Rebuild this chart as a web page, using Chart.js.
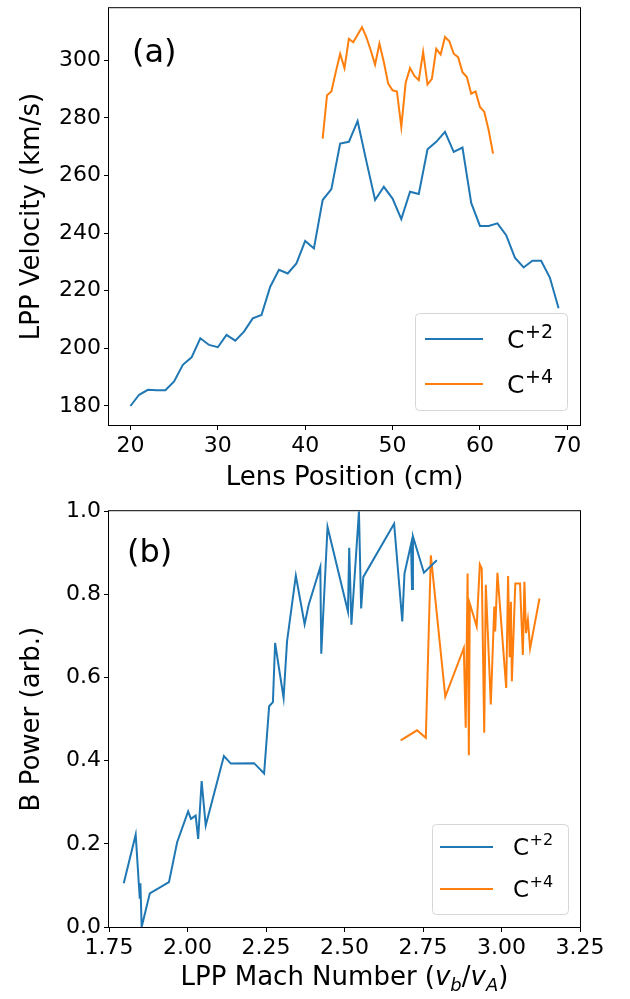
<!DOCTYPE html>
<html lang="en">
<head>
<meta charset="UTF-8">
<title>LPP Velocity and B Power</title>
<script src="https://cdn.jsdelivr.net/npm/chart.js"></script>
<style>
    body { margin: 0; background: #fff; }
    .panel { position: absolute; left: 0; }
    .panel canvas { display: block; }
    #panelA { top: -8px; }
    #panelB { top: 495px; }
</style>
</head>
<body>

<div class="panel" id="panelA"><canvas id="velChart" width="630" height="503"></canvas></div>
<div class="panel" id="panelB"><canvas id="powChart" width="630" height="504"></canvas></div>

<script>
    const FONT = '"DejaVu Sans", Verdana, sans-serif';
    const BLUE = '#1f77b4';
    const ORANGE = '#ff7f0e';

    // (a) LPP velocity vs lens position
    const lensC2 = [20, 21, 22, 23, 24, 25, 26, 27, 28, 29, 30, 31, 32, 33, 34, 35, 36, 37, 38, 39,
                    40, 41, 42, 43, 44, 45, 46, 47, 48, 49, 50, 51, 52, 53, 54, 55, 56, 57, 58, 59,
                    60, 61, 62, 63, 64, 65, 66, 67, 68, 69];
    const velC2 = [180.0, 183.9, 185.6, 185.5, 185.5, 188.5, 194.3, 196.9, 203.5, 201.2,
                   200.4, 204.7, 202.7, 205.8, 210.4, 211.6, 221.4, 227.3, 226.0, 229.5,
                   237.3, 234.7, 251.5, 255.3, 271.1, 271.7, 278.9, 265.0, 251.5, 256.1,
                   252.0, 244.9, 254.4, 253.6, 269.1, 271.7, 275.2, 268.2, 269.7, 250.5,
                   242.5, 242.5, 243.4, 239.3, 231.5, 228.1, 230.4, 230.4, 224.6, 213.9];
    const lensC4 = [42, 42.5, 43, 43.5, 44, 44.5, 45, 45.5, 46, 46.5, 47, 47.5, 48, 48.5, 49, 49.5,
                    50, 50.5, 51, 51.5, 52, 52.5, 53, 53.5, 54, 54.5, 55, 55.5, 56, 56.5, 57, 57.5,
                    58, 58.5, 59, 59.5, 60, 60.5, 61, 61.5];
    const velC4 = [272.8, 287.9, 289.2, 295.9, 302.3, 297.3, 307.5, 306.3, 308.9, 311.5,
                   308.1, 303.5, 298.5, 305.8, 299.4, 291.9, 289.6, 289.2, 276.9, 292.2,
                   297.3, 294.6, 293.1, 302.9, 291.6, 293.6, 304.0, 302.0, 308.1, 306.6,
                   302.3, 301.1, 295.9, 294.2, 288.4, 289.2, 283.8, 282.1, 275.7, 267.6];
    const lensTicks = [20, 30, 40, 50, 60, 70];
    const velTicks = [180, 200, 220, 240, 260, 280, 300];

    // (b) B power vs Mach number
    const machC2 = [1.797, 1.835, 1.848, 1.850, 1.854, 1.880, 1.941, 1.967, 2.002, 2.011,
                    2.026, 2.034, 2.045, 2.058, 2.116, 2.138, 2.212, 2.244, 2.260, 2.272,
                    2.279, 2.306, 2.317, 2.345, 2.373, 2.386, 2.423, 2.426, 2.446, 2.511,
                    2.515, 2.522, 2.546, 2.553, 2.560, 2.658, 2.684, 2.691, 2.712, 2.715,
                    2.718, 2.753, 2.794];
    const powC2 = [0.105, 0.222, 0.068, 0.105, 0.000, 0.081, 0.108, 0.204, 0.278, 0.260,
                   0.268, 0.212, 0.351, 0.244, 0.411, 0.393, 0.394, 0.369, 0.531, 0.541,
                   0.683, 0.551, 0.687, 0.845, 0.728, 0.775, 0.866, 0.657, 0.962, 0.759,
                   0.912, 0.727, 1.000, 0.766, 0.842, 0.970, 0.735, 0.850, 0.921, 0.813,
                   0.939, 0.852, 0.882];
    const machC4 = [2.679, 2.731, 2.759, 2.775, 2.821, 2.880, 2.886, 2.892, 2.896, 2.899,
                    2.921, 2.931, 2.937, 2.945, 2.950, 2.966, 2.977, 2.980, 2.987, 3.015,
                    3.021, 3.026, 3.030, 3.033, 3.044, 3.059, 3.068, 3.073, 3.078, 3.084,
                    3.091, 3.121];
    const powC4 = [0.449, 0.473, 0.455, 0.894, 0.554, 0.671, 0.479, 0.850, 0.413, 0.778,
                   0.723, 0.872, 0.862, 0.467, 0.823, 0.535, 0.771, 0.711, 0.852, 0.575,
                   0.844, 0.649, 0.782, 0.591, 0.826, 0.826, 0.654, 0.830, 0.707, 0.739,
                   0.670, 0.790];
    const machTicks = [1.75, 2.00, 2.25, 2.50, 2.75, 3.00, 3.25];
    const powTicks = [0.0, 0.2, 0.4, 0.6, 0.8, 1.0];

    // legend entries: ion + charge (drawn as superscript)
    const ions = ['C', 'C'];
    const charges = ['+2', '+4'];

    function toPoints(xs, ys) {
        return xs.map((x, i) => ({ x: x, y: ys[i] }));
    }

    function series(i, xs, ys, color) {
        return {
            label: ions[i] + charges[i],
            data: toPoints(xs, ys),
            borderColor: color,
            backgroundColor: color,
            borderWidth: 2,
            pointRadius: 0,
            showLine: true,
            tension: 0,
            fill: false
        };
    }

    function axis(o) {
        return {
            type: 'linear',
            min: o.min,
            max: o.max,
            afterBuildTicks: s => { s.ticks = o.ticks.map(v => ({ value: v })); },
            afterFit: s => {
                if (o.width) s.width = o.width;
                if (o.height) s.height = o.height;
            },
            grid: { display: true, drawOnChartArea: false, drawTicks: true, tickLength: 5, color: '#000' },
            border: { display: false },
            ticks: {
                color: '#000',
                font: { family: FONT, size: 22 },
                padding: 3,
                maxRotation: 0,
                autoSkip: false,
                callback: v => v.toFixed(o.digits)
            },
            title: o.title
                ? { display: true, text: o.title, color: '#000', font: { family: FONT, size: 26 }, padding: o.titlePad }
                : { display: false }
        };
    }

    // spines, panel tag, legend (matplotlib look)
    function decor(cfg) {
        return {
            id: 'decor',
            afterDraw(chart) {
                const ctx = chart.ctx;
                const a = chart.chartArea;
                ctx.save();

                ctx.strokeStyle = '#000';
                ctx.lineWidth = 1;
                ctx.strokeRect(a.left - 0.5, a.top - 0.5, a.right - a.left + 1, a.bottom - a.top + 1);

                ctx.fillStyle = '#000';
                ctx.textBaseline = 'alphabetic';
                ctx.textAlign = 'left';
                ctx.font = '32px ' + FONT;
                ctx.fillText(cfg.tag, a.left + cfg.tagDx, a.top + cfg.tagDy);

                const L = cfg.legend;
                const bx = a.right - L.right - L.w;
                const by = a.bottom - L.bottom - L.h;
                ctx.beginPath();
                ctx.roundRect(bx + 0.5, by + 0.5, L.w, L.h, 4);
                ctx.fillStyle = 'rgba(255,255,255,0.8)';
                ctx.fill();
                ctx.strokeStyle = '#d6d6d6';
                ctx.stroke();

                chart.data.datasets.forEach((ds, i) => {
                    const cy = by + L.row0 + i * L.rowGap;
                    ctx.beginPath();
                    ctx.moveTo(bx + L.lx0, cy);
                    ctx.lineTo(bx + L.lx1, cy);
                    ctx.strokeStyle = ds.borderColor;
                    ctx.lineWidth = 2;
                    ctx.stroke();

                    ctx.fillStyle = '#000';
                    ctx.font = L.font + 'px ' + FONT;
                    ctx.fillText(ions[i], bx + L.tx, cy + L.baseDy);
                    const w = ctx.measureText(ions[i]).width;
                    ctx.font = L.sup + 'px ' + FONT;
                    ctx.fillText(charges[i], bx + L.tx + w + 0.5, cy + L.supDy);
                });

                if (cfg.xTitle) cfg.xTitle(chart);
                ctx.restore();
            }
        };
    }

    // "LPP Mach Number (v_b/v_A)" with italic v and subscripts
    function machTitle(chart) {
        const ctx = chart.ctx;
        const a = chart.chartArea;
        const parts = [
            { t: 'LPP Mach Number (', f: '26px ' + FONT, dy: 0 },
            { t: 'v', f: 'oblique 26px ' + FONT, dy: 0 },
            { t: 'b', f: 'oblique 18px ' + FONT, dy: 6 },
            { t: '/', f: '26px ' + FONT, dy: 0 },
            { t: 'v', f: 'oblique 26px ' + FONT, dy: 0 },
            { t: 'A', f: 'oblique 18px ' + FONT, dy: 6 },
            { t: ')', f: '26px ' + FONT, dy: 0 }
        ];
        let total = 0;
        parts.forEach(p => { ctx.font = p.f; p.w = ctx.measureText(p.t).width; total += p.w; });
        let x = (a.left + a.right) / 2 - total / 2;
        const y = 490;
        ctx.fillStyle = '#000';
        ctx.textBaseline = 'alphabetic';
        ctx.textAlign = 'left';
        parts.forEach(p => {
            ctx.font = p.f;
            ctx.fillText(p.t, x, y + p.dy);
            x += p.w;
        });
    }

    new Chart(document.getElementById('velChart'), {
        type: 'scatter',
        data: {
            datasets: [
                series(0, lensC2, velC2, BLUE),
                series(1, lensC4, velC4, ORANGE)
            ]
        },
        options: {
            responsive: false,
            animation: false,
            layout: { autoPadding: false, padding: { left: 0, right: 50, top: 14, bottom: 0 } },
            plugins: { legend: { display: false }, tooltip: { enabled: false } },
            scales: {
                x: axis({ min: 17.55, max: 71.45, ticks: lensTicks, digits: 0, height: 70,
                          title: 'Lens Position (cm)', titlePad: { top: 0, bottom: 1 } }),
                y: axis({ min: 173.4, max: 318.1, ticks: velTicks, digits: 0, width: 109,
                          title: 'LPP Velocity (km/s)', titlePad: { top: 17, bottom: 0 } })
            }
        },
        plugins: [decor({
            tag: '(a)', tagDx: 23, tagDy: 54,
            legend: { w: 152, h: 97, right: 13, bottom: 15, row0: 26, rowGap: 45,
                      lx0: 10, lx1: 68, tx: 92, font: 25, sup: 19, baseDy: 9, supDy: -1 }
        })]
    });

    new Chart(document.getElementById('powChart'), {
        type: 'scatter',
        data: {
            datasets: [
                series(0, machC2, powC2, BLUE),
                series(1, machC4, powC4, ORANGE)
            ]
        },
        options: {
            responsive: false,
            animation: false,
            layout: { autoPadding: false, padding: { left: 0, right: 50, top: 14, bottom: 0 } },
            plugins: { legend: { display: false }, tooltip: { enabled: false } },
            scales: {
                x: axis({ min: 1.75, max: 3.25, ticks: machTicks, digits: 2, height: 72 }),
                y: axis({ min: 0, max: 1, ticks: powTicks, digits: 1, width: 109,
                          title: 'B Power (arb.)', titlePad: { top: 17, bottom: 0 } })
            }
        },
        plugins: [decor({
            tag: '(b)', tagDx: 18, tagDy: 51,
            legend: { w: 136, h: 90, right: 12, bottom: 13, row0: 23, rowGap: 42,
                      lx0: 8, lx1: 61, tx: 81, font: 23, sup: 16, baseDy: 8, supDy: -2 },
            xTitle: machTitle
        })]
    });
</script>

</body>
</html>
